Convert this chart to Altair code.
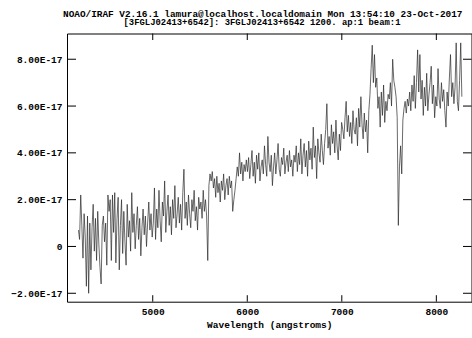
import altair as alt
import pandas as pd

# ---- data (flux in units of 1E-17) ----
WAVE_START = 4214.0   # dispersion solution: first pixel wavelength (angstroms)
WAVE_STEP = 12.0      # angstroms per resampled pixel

FLUX_A = [0.7, 0.3, 2.2, 0.9, -0.5, 1.4, 0.4, -1.7, 1.3, -2.0, 1.0, -1.0, 0.8, 1.8, -0.2, 1.2,
          -0.6, 1.5, 0.1, -0.9, -1.6, 0.9, 1.3, 0.2, 1.0, -0.8, 2.2, 1.5, 2.0, -0.6, 2.2, 0.6, 2.3]
FLUX_B = [-0.7, 1.2, 2.1, -1.0, 0.9, 2.0, -0.3, 1.5, 0.2, -0.8, 1.8, 0.4, 1.1, -0.2, 2.3, 0.6,
          1.4, -0.1, 0.9, 1.7, 0.3, 1.2, -0.4, 0.8, 1.6, 0.5, 1.3, 0.0, 1.0, 1.9, 0.7, 1.4, 0.4]
FLUX_C = [1.0, 2.5, 0.3, 1.6, 0.8, 2.4, 1.1, 0.2, 1.9, 1.3, 2.8, 0.6, 1.5, 2.2, 0.9, 1.7, 0.5,
          2.0, 1.2, 2.6, 0.8, 1.4, 2.1, 1.0, 1.8, 0.7, 2.3, 3.3, 1.2, 1.9, 0.9, 2.2, 1.4, 0.8,
          2.0, 1.5, 2.4, 1.1, 1.7, 0.7, 2.1, 1.6]
FLUX_D = [1.9, 1.2, 2.4, 1.5, 2.0, 1.3, -0.6, 2.6, 3.1, 2.8, 3.2, 2.5, 2.9, 2.1, 3.0, 2.3, 2.7,
          1.9, 2.8, 2.4, 3.1, 2.0, 2.6, 2.9, 2.2, 3.0, 2.5, 2.8, 1.5, 2.0, 2.4, 2.9, 3.4, 3.0,
          4.0, 3.1, 3.6, 2.8, 3.5, 3.2, 3.7]
FLUX_E = [3.2, 3.8, 2.9, 3.5, 4.1, 3.0, 3.6, 2.7, 3.9, 3.3, 4.0, 2.8, 3.4, 3.7, 3.1, 4.3, 3.5,
          3.0, 4.7, 3.6, 3.2, 3.9, 2.6, 3.4, 4.0, 3.1, 3.7, 4.4, 3.3, 3.0, 3.8, 3.5, 4.2, 3.1,
          3.6, 3.9, 3.2, 4.1, 3.4, 3.7, 3.0, 3.9]
FLUX_F = [3.6, 4.3, 3.2, 4.0, 3.5, 4.6, 3.1, 3.9, 4.4, 3.4, 4.1, 3.0, 4.5, 3.7, 4.2, 3.3, 5.1,
          3.8, 4.3, 2.9, 4.6, 4.0, 3.6, 4.8, 4.1, 3.5, 4.4, 5.0, 6.1, 4.2, 4.7, 3.9, 5.2, 4.4,
          4.9, 4.0, 5.4, 4.3, 3.7, 4.8, 4.1, 5.3]
FLUX_G = [5.0, 4.6, 5.5, 6.2, 4.9, 5.6, 4.7, 5.3, 4.4, 5.8, 5.0, 4.8, 5.5, 4.3, 5.9, 5.1, 6.4,
          5.2, 4.6, 5.7, 4.9, 5.4, 4.0, 5.8, 6.5, 7.6, 8.6, 7.0, 8.2, 6.8, 7.2, 5.9, 6.4, 5.1,
          6.6, 5.6, 6.9, 5.3, 6.2, 5.8, 6.5]
FLUX_H = [6.3, 7.0, 6.0, 8.0, 7.1, 6.8, 6.4, 5.5, 0.9, 3.4, 4.3, 3.1, 5.4, 5.9, 6.2, 5.7, 6.3]
FLUX_I = [6.0, 6.6, 5.8, 6.9, 6.2, 7.3, 5.9, 7.0, 8.4, 6.6, 8.2, 6.3, 7.1, 5.6, 6.8, 6.0, 7.4,
          5.8, 6.5, 7.0, 7.7, 6.1, 6.9, 5.5, 6.4, 6.0, 7.6, 6.3, 5.9, 7.0, 6.2, 6.7, 5.8, 5.1,
          6.6, 6.0, 7.2, 8.2, 6.4, 7.0, 6.1, 6.8, 8.7, 6.2, 5.8, 7.1, 8.7, 6.4]

FLUX = FLUX_A + FLUX_B + FLUX_C + FLUX_D + FLUX_E + FLUX_F + FLUX_G + FLUX_H + FLUX_I

X_TICKS = [5000, 6000, 7000, 8000]
Y_TICKS = [-2, 0, 2, 4, 6, 8]
X_DOMAIN = [4093, 8372]
Y_DOMAIN = [-2.36, 9.10]

TITLE1 = "NOAO/IRAF V2.16.1 lamura@localhost.localdomain Mon 13:54:10 23-Oct-2017"
TITLE2 = "[3FGLJ02413+6542]: 3FGLJ02413+6542 1200. ap:1 beam:1"
X_TITLE = "Wavelength (angstroms)"

W, H = 404.5, 268.2
FONT = "Liberation Mono"

spec = pd.DataFrame({
    "wave": [WAVE_START + WAVE_STEP * i for i in range(len(FLUX))],
    "flux": FLUX,
})
xt = pd.DataFrame({"v": X_TICKS})
yt = pd.DataFrame({"v": Y_TICKS})

xs = alt.Scale(domain=X_DOMAIN, nice=False, zero=False)
ys = alt.Scale(domain=Y_DOMAIN, nice=False, zero=False)

line = alt.Chart(spec).mark_line(color="#2a2a2a", strokeWidth=0.7, clip=True).encode(
    x=alt.X("wave:Q", scale=xs, title=X_TITLE,
            axis=alt.Axis(values=X_TICKS, format="d", ticks=False, domain=False, grid=False,
                          labelPadding=5, titlePadding=3)),
    y=alt.Y("flux:Q", scale=ys, title=None,
            axis=alt.Axis(values=Y_TICKS, ticks=False, domain=False, grid=False, labelPadding=5,
                          labelExpr="datum.value == 0 ? '0' : format(datum.value, '.2f') + 'E-17'")),
)

tick_bottom = alt.Chart(xt).mark_rule(color="black", strokeWidth=1).encode(
    x=alt.X("v:Q", scale=xs), y=alt.value(H), y2=alt.value(H - 6.5))
tick_top = alt.Chart(xt).mark_rule(color="black", strokeWidth=1).encode(
    x=alt.X("v:Q", scale=xs), y=alt.value(0), y2=alt.value(6.5))
tick_left = alt.Chart(yt).mark_rule(color="black", strokeWidth=1).encode(
    y=alt.Y("v:Q", scale=ys), x=alt.value(0), x2=alt.value(9))
tick_right = alt.Chart(yt).mark_rule(color="black", strokeWidth=1).encode(
    y=alt.Y("v:Q", scale=ys), x=alt.value(W), x2=alt.value(W - 8.5))

t1 = alt.Chart(pd.DataFrame({"t": [TITLE1]})).mark_text(
    align="left", baseline="alphabetic", font=FONT, fontWeight="bold", fontSize=9.4, color="black"
).encode(text="t:N", x=alt.value(-4), y=alt.value(-17))
t2 = alt.Chart(pd.DataFrame({"t": [TITLE2]})).mark_text(
    align="center", baseline="alphabetic", font=FONT, fontWeight="bold", fontSize=8.9, color="black"
).encode(text="t:N", x=alt.value(195), y=alt.value(-8.5))

chart = alt.layer(line, tick_bottom, tick_top, tick_left, tick_right, t1, t2).properties(
    width=W, height=H,
    autosize=alt.AutoSizeParams(type="none"),
    padding={"left": 67, "top": 33.5, "right": 0, "bottom": 36.3},
    background="white",
).configure_view(
    stroke="black", strokeWidth=1
).configure_axis(
    labelFont=FONT, labelFontWeight="bold", labelFontSize=9.5, labelColor="black",
    titleFont=FONT, titleFontWeight="bold", titleFontSize=9.5, titleColor="black",
)

chart.save("out.html", embed_options={"renderer": "svg", "actions": False})
